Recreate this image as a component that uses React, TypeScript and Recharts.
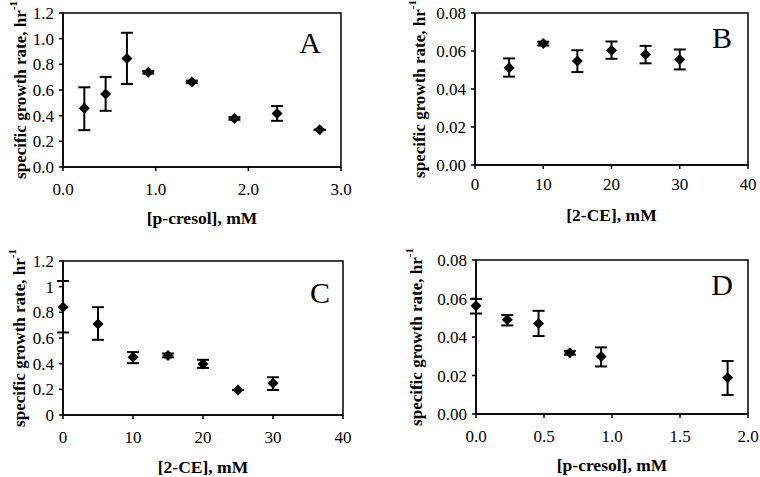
import React from 'react';
import { ScatterChart, Scatter, XAxis, YAxis, ErrorBar, ReferenceArea } from 'recharts';

// Panel A: growth on p-cresol
const A_X = [0.23, 0.46, 0.69, 0.92, 1.39, 1.85, 2.31, 2.77];
const A_Y = [0.457, 0.569, 0.845, 0.738, 0.663, 0.378, 0.417, 0.29];
const A_LO = [0.287, 0.438, 0.647, 0.728, 0.653, 0.368, 0.36, 0.29];
const A_HI = [0.621, 0.702, 1.046, 0.748, 0.673, 0.388, 0.475, 0.29];

// Panel B: growth on 2-CE
const B_X = [5, 10, 15, 20, 25, 30];
const B_Y = [0.0512, 0.0639, 0.0547, 0.0604, 0.0582, 0.0555];
const B_LO = [0.0465, 0.0629, 0.0489, 0.0559, 0.0535, 0.0503];
const B_HI = [0.0561, 0.0649, 0.0604, 0.065, 0.0627, 0.0608];

// Panel C: 2-CE
const C_X = [0, 5, 10, 15, 20, 25, 30];
const C_Y = [0.84, 0.71, 0.45, 0.464, 0.398, 0.195, 0.247];
const C_LO = [0.643, 0.586, 0.404, 0.449, 0.367, 0.195, 0.195];
const C_HI = [1.044, 0.84, 0.49, 0.479, 0.43, 0.195, 0.294];

// Panel D: p-cresol
const D_X = [0, 0.23, 0.46, 0.69, 0.92, 1.85];
const D_Y = [0.0562, 0.049, 0.047, 0.0318, 0.0299, 0.0188];
const D_LO = [0.0522, 0.046, 0.0405, 0.0308, 0.0247, 0.0099];
const D_HI = [0.0598, 0.0514, 0.0536, 0.0328, 0.0346, 0.0275];

const TICKS_X_PCRESOL_A = [0, 1, 2, 3];
const TICKS_X_PCRESOL_D = [0, 0.5, 1, 1.5, 2];
const TICKS_X_CE = [0, 10, 20, 30, 40];
const TICKS_Y_BIG = [0, 0.2, 0.4, 0.6, 0.8, 1, 1.2];
const TICKS_Y_SMALL = [0, 0.02, 0.04, 0.06, 0.08];

const FONT = "'Liberation Serif', 'Times New Roman', serif";

const build = (xs: number[], ys: number[], lo: number[], hi: number[]) =>
  xs.map((x, i) => ({ x, y: ys[i], err: [ys[i] - lo[i], hi[i] - ys[i]] }));

const Diamond = (props: any) => {
  const { cx, cy } = props;
  const r = 5.5;
  return <polygon points={`${cx},${cy - r} ${cx + r},${cy} ${cx},${cy + r} ${cx - r},${cy}`} fill="#000" />;
};

interface PanelProps {
  left: number; top: number; width: number; height: number;
  plotLeft: number; plotRight: number; plotTop: number; plotBottom: number;
  data: { x: number; y: number; err: number[] }[];
  xDomain: [number, number]; xTicks: number[]; xFmt: (v: number) => string;
  yDomain: [number, number]; yTicks: number[]; yFmt: (v: number) => string;
  xTitle: string; letter: string; letterDx: number; letterDy: number;
  yLabelX: number; tickY: number; titleY: number;
}

function Panel(p: PanelProps) {
  return (
    <div style={{ position: 'absolute', left: p.left, top: p.top }}>
      <ScatterChart
        width={p.width}
        height={p.height}
        margin={{ top: p.plotTop, right: p.width - p.plotRight, bottom: 0, left: 0 }}
      >
        <XAxis
          type="number" dataKey="x" domain={p.xDomain} ticks={p.xTicks} tickFormatter={p.xFmt}
          height={p.height - p.plotBottom}
          stroke="#000" strokeWidth={1.5} tickSize={4} tickMargin={p.tickY}
          tick={{ fill: '#000', fontSize: 17, fontFamily: FONT }}
          label={{
            content: ({ viewBox }: any) => (
              <text x={viewBox.x + viewBox.width / 2} y={viewBox.y + p.titleY} textAnchor="middle"
                fontFamily={FONT} fontWeight="bold" fontSize={17.5} fill="#000">{p.xTitle}</text>
            ),
          }}
        />
        <YAxis
          type="number" dataKey="y" domain={p.yDomain} ticks={p.yTicks} tickFormatter={p.yFmt}
          width={p.plotLeft}
          stroke="#000" strokeWidth={1.5} tickSize={4} tickMargin={5}
          tick={{ fill: '#000', fontSize: 17, fontFamily: FONT }}
          label={{
            content: ({ viewBox }: any) => {
              const cx = p.yLabelX;
              const cy = viewBox.y + viewBox.height / 2;
              return (
                <text x={cx} y={cy} transform={`rotate(-90 ${cx} ${cy})`} textAnchor="middle"
                  dominantBaseline="central" fontFamily={FONT} fontWeight="bold" fontSize={17} fill="#000">
                  specific growth rate, hr<tspan dy={-7} fontSize={11}>-1</tspan>
                </text>
              );
            },
          }}
        />
        <ReferenceArea
          x1={p.xDomain[0]} x2={p.xDomain[1]} y1={p.yDomain[0]} y2={p.yDomain[1]}
          fill="none" stroke="#000" strokeWidth={1.5} ifOverflow="visible"
          label={{
            content: ({ viewBox }: any) => (
              <text x={viewBox.x + viewBox.width - p.letterDx} y={viewBox.y + p.letterDy} textAnchor="middle"
                fontFamily={FONT} fontSize={30} fill="#000">{p.letter}</text>
            ),
          }}
        />
        <Scatter data={p.data} shape={Diamond} isAnimationActive={false}>
          <ErrorBar dataKey="err" direction="y" width={6} stroke="#000" strokeWidth={2} />
        </Scatter>
      </ScatterChart>
    </div>
  );
}

const f1 = (v: number) => v.toFixed(1);
const f2 = (v: number) => v.toFixed(2);
const f0 = (v: number) => String(v);

export default function App() {
  return (
    <div style={{ position: 'absolute', left: 0, top: 0, width: 760, height: 477, background: '#fff', overflow: 'hidden' }}>
      <Panel
        left={0} top={0} width={380} height={237}
        plotLeft={63} plotRight={341} plotTop={13} plotBottom={167}
        data={build(A_X, A_Y, A_LO, A_HI)}
        xDomain={[0, 3]} xTicks={TICKS_X_PCRESOL_A} xFmt={f1}
        yDomain={[0, 1.2]} yTicks={TICKS_Y_BIG} yFmt={f1}
        xTitle="[p-cresol], mM" letter="A" letterDx={31} letterDy={40}
        yLabelX={20} tickY={12} titleY={57}
      />
      <Panel
        left={400} top={0} width={360} height={237}
        plotLeft={75} plotRight={348} plotTop={13} plotBottom={165}
        data={build(B_X, B_Y, B_LO, B_HI)}
        xDomain={[0, 40]} xTicks={TICKS_X_CE} xFmt={f0}
        yDomain={[0, 0.08]} yTicks={TICKS_Y_SMALL} yFmt={f2}
        xTitle="[2-CE], mM" letter="B" letterDx={26} letterDy={35}
        yLabelX={19} tickY={9} titleY={56}
      />
      <Panel
        left={0} top={237} width={380} height={240}
        plotLeft={63} plotRight={343} plotTop={24} plotBottom={178}
        data={build(C_X, C_Y, C_LO, C_HI)}
        xDomain={[0, 40]} xTicks={TICKS_X_CE} xFmt={f0}
        yDomain={[0, 1.2]} yTicks={TICKS_Y_BIG} yFmt={f0}
        xTitle="[2-CE], mM" letter="C" letterDx={23} letterDy={42}
        yLabelX={19} tickY={12} titleY={58}
      />
      <Panel
        left={400} top={237} width={360} height={240}
        plotLeft={76} plotRight={348} plotTop={23} plotBottom={177}
        data={build(D_X, D_Y, D_LO, D_HI)}
        xDomain={[0, 2]} xTicks={TICKS_X_PCRESOL_D} xFmt={f1}
        yDomain={[0, 0.08]} yTicks={TICKS_Y_SMALL} yFmt={f2}
        xTitle="[p-cresol], mM" letter="D" letterDx={26} letterDy={35}
        yLabelX={16} tickY={12} titleY={57}
      />
    </div>
  );
}
